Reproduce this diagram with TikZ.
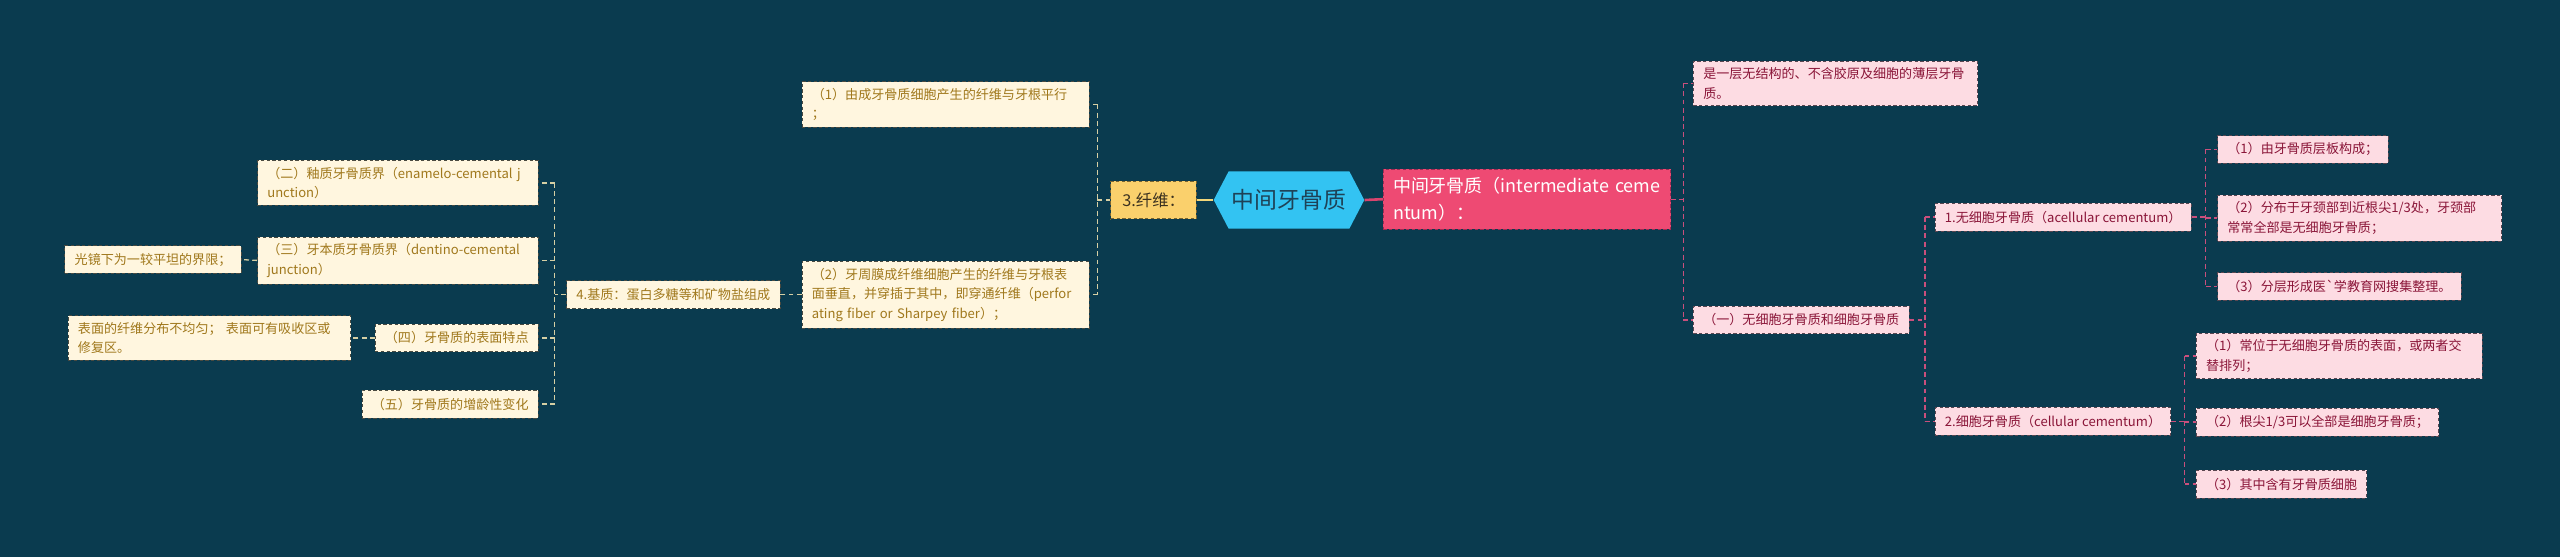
\documentclass[tikz,border=0pt]{standalone}
\usepackage{fontspec}
\setmainfont{Noto Sans CJK SC}
\usetikzlibrary{calc,shapes.symbols}
\definecolor{bg}{HTML}{0A3B4F}
\definecolor{creamf}{HTML}{FFF6DF}
\definecolor{creamt}{HTML}{A0781C}
\definecolor{creamd}{HTML}{4A4A40}
\definecolor{pinkf}{HTML}{FDDCE3}
\definecolor{pinkt}{HTML}{8A1538}
\definecolor{pinkd}{HTML}{5A4650}
\definecolor{mainf}{HTML}{EE4A73}
\definecolor{maind}{HTML}{9E2B52}
\definecolor{hexf}{HTML}{33C3F2}
\definecolor{hext}{HTML}{1E4257}
\definecolor{yelf}{HTML}{FAD06C}
\definecolor{yelt}{HTML}{3A3020}
\definecolor{yeld}{HTML}{7A6430}
\definecolor{lcol}{HTML}{D6CFA4}
\definecolor{rcol}{HTML}{C94F7C}
\definecolor{yline}{HTML}{F2D77A}
\definecolor{mline}{HTML}{D9446E}
\tikzset{
  box/.style={rectangle, inner xsep=6pt, inner ysep=4pt, dash pattern=on 2pt off 1.5pt,
    line width=0.5pt, font=\fontsize{8}{12}\selectfont, align=left},
  cream/.style={box, fill=creamf, draw=creamd, text=creamt},
  lpink/.style={box, fill=pinkf, draw=pinkd, text=pinkt},
  one/.style={minimum height=17pt},
  tw/.style={text width=#1},
  mainbox/.style={box, fill=mainf, draw=maind, text=white, inner ysep=5pt,
    font=\fontsize{11}{16}\selectfont},
  yelbox/.style={box, fill=yelf, draw=yeld, text=yelt, inner xsep=7pt,
    minimum height=23pt, font=\fontsize{10}{12}\selectfont},
  hexs/.style={signal, signal to=east and west, signal pointer angle=125, fill=hexf,
    text=hext, minimum height=35pt, minimum width=85pt, inner xsep=2pt,
    font=\fontsize{14}{16}\selectfont},
  lconn/.style={draw=lcol, line width=0.8pt, dash pattern=on 3pt off 2pt},
  rconn/.style={draw=rcol, line width=0.8pt, dash pattern=on 3pt off 2pt},
}
\begin{document}
\begin{tikzpicture}[x=1pt,y=-1pt]
\fill[bg] (0,0) rectangle (1568,341);
\useasboundingbox (0,0) rectangle (1568,341);

% center
\node[hexs] (hex) at (789.5,122.5) {中间牙骨质};
\node[yelbox, anchor=east] (fx) at (733,122.5) {3.纤维：};
\node[mainbox, tw=164pt, anchor=west] (m) at (847,122) {中间牙骨质（intermediate ceme\\ntum）：};

% left branch
\node[cream, tw=164pt, anchor=west] (fib1) at (491,64) {（1）由成牙骨质细胞产生的纤维与牙根平行\\；};
\node[cream, tw=164pt, anchor=west] (fib2) at (491,180.5) {（2）牙周膜成纤维细胞产生的纤维与牙根表\\面垂直，并穿插于其中，即穿通纤维（perfor\\ating fiber or Sharpey fiber）；};
\node[cream, one, anchor=east] (base4) at (478,180.5) {4.基质：蛋白多糖等和矿物盐组成};
\node[cream, tw=160pt, anchor=east] (n2) at (330,112) {（二）釉质牙骨质界（enamelo-cemental j\\unction）};
\node[cream, tw=160pt, anchor=east] (n3) at (330,159.5) {（三）牙本质牙骨质界（dentino-cemental\\junction）};
\node[cream, one, anchor=east] (n4) at (330,207) {（四）牙骨质的表面特点};
\node[cream, one, anchor=east] (n5) at (330,247.5) {（五）牙骨质的增龄性变化};
\node[cream, one, anchor=east] (l3) at (148,159) {光镜下为一较平坦的界限；};
\node[cream, tw=161pt, anchor=east] (l4) at (215,207) {表面的纤维分布不均匀； 表面可有吸收区或\\修复区。};

% right branch
\node[lpink, tw=162pt, anchor=west] (d1) at (1037,51) {是一层无结构的、不含胶原及细胞的薄层牙骨\\质。};
\node[lpink, one, anchor=west] (d2) at (1037,196) {（一）无细胞牙骨质和细胞牙骨质};
\node[lpink, one, anchor=west] (e1) at (1185,133) {1.无细胞牙骨质（acellular cementum）};
\node[lpink, one, anchor=west] (e2) at (1185,258) {2.细胞牙骨质（cellular cementum）};
\node[lpink, one, anchor=west] (f1) at (1358,91.5) {（1）由牙骨质层板构成；};
\node[lpink, tw=162pt, anchor=west] (f2) at (1358,133.5) {（2）分布于牙颈部到近根尖1/3处，牙颈部\\常常全部是无细胞牙骨质；};
\node[lpink, one, anchor=west] (f3) at (1358,175.5) {（3）分层形成医\textasciigrave 学教育网搜集整理。};
\node[lpink, tw=163pt, anchor=west] (g1) at (1345,218) {（1）常位于无细胞牙骨质的表面，或两者交\\替排列；};
\node[lpink, one, anchor=west] (g2) at (1345,258.5) {（2）根尖1/3可以全部是细胞牙骨质；};
\node[lpink, one, anchor=west] (g3) at (1345,296.5) {（3）其中含有牙骨质细胞};

% main connectors
\draw[line width=1.6pt, draw=yline] (fx.east) -- (hex.west);
\draw[line width=1.6pt, draw=mline] (hex.east) -- (m.west);

% left connectors
\coordinate (bF) at ($(fx.west)+(-8,0)$);
\draw[lconn] (fx.west) -- (bF);
\draw[lconn] (bF |- fib1.east) -- (bF |- fib2.east);
\draw[lconn] (bF |- fib1.east) -- (fib1.east);
\draw[lconn] (bF |- fib2.east) -- (fib2.east);
\draw[lconn] (fib2.west) -- (base4.east);
\coordinate (bB) at ($(base4.west)+(-7,0)$);
\draw[lconn] (base4.west) -- (bB);
\draw[lconn] (bB |- n2.east) -- (bB |- n5.east);
\draw[lconn] (bB |- n2.east) -- (n2.east);
\draw[lconn] (bB |- n3.east) -- (n3.east);
\draw[lconn] (bB |- n4.east) -- (n4.east);
\draw[lconn] (bB |- n5.east) -- (n5.east);
\draw[lconn] (n3.west) -- (l3.east);
\draw[lconn] (n4.west) -- (l4.east);

% right connectors
\coordinate (bM) at ($(d2.west)+(-6,0)$);
\draw[rconn] (m.east) -- (m.east -| bM);
\draw[rconn] (bM |- d1.west) -- (bM |- d2.west);
\draw[rconn] (bM |- d1.west) -- (d1.west);
\draw[rconn] (bM |- d2.west) -- (d2.west);
\coordinate (bD) at ($(e1.west)+(-6,0)$);
\draw[rconn] (d2.east) -- (d2.east -| bD);
\draw[rconn] (bD |- e1.west) -- (bD |- e2.west);
\draw[rconn] (bD |- e1.west) -- (e1.west);
\draw[rconn] (bD |- e2.west) -- (e2.west);
\coordinate (bE) at ($(f2.west)+(-7,0)$);
\draw[rconn] (e1.east) -- (e1.east -| bE);
\draw[rconn] (bE |- f1.west) -- (bE |- f3.west);
\draw[rconn] (bE |- f1.west) -- (f1.west);
\draw[rconn] (bE |- f2.west) -- (f2.west);
\draw[rconn] (bE |- f3.west) -- (f3.west);
\coordinate (bG) at ($(g2.west)+(-7,0)$);
\draw[rconn] (e2.east) -- (e2.east -| bG);
\draw[rconn] (bG |- g1.west) -- (bG |- g3.west);
\draw[rconn] (bG |- g1.west) -- (g1.west);
\draw[rconn] (bG |- g2.west) -- (g2.west);
\draw[rconn] (bG |- g3.west) -- (g3.west);
\end{tikzpicture}
\end{document}
